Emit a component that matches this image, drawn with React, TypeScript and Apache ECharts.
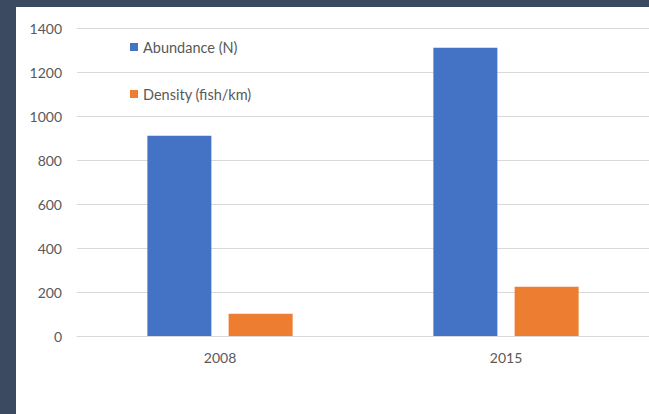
import React, { useEffect, useRef } from "react";
import * as echarts from "echarts";

const categories = ["2008", "2015"];
const abundance = [910, 1310];
const density = [101, 224];
const seriesNames = ["Abundance (N)", "Density (fish/km)"];

export default function App() {
  const ref = useRef<HTMLDivElement>(null);
  useEffect(() => {
    if (!ref.current) return;
    const chart = echarts.init(ref.current, null, { renderer: "svg" });
    const font = "Lato, 'Noto Sans', sans-serif";
    chart.setOption({
      animation: false,
      backgroundColor: "#3b4961",
      graphic: [
        {
          type: "rect",
          shape: { x: 16, y: 7, width: 640, height: 420 },
          style: { fill: "#ffffff" },
          z: -10,
          silent: true,
        },
      ],
      legend: {
        orient: "vertical",
        left: 125,
        top: 34,
        itemWidth: 8,
        itemHeight: 8,
        itemGap: 31,
        icon: "rect",
        textStyle: { color: "#595959", fontSize: 14.5, fontFamily: font, lineHeight: 16 },
        data: seriesNames,
      },
      grid: { left: 77, top: 28, width: 574, height: 308, containLabel: false },
      xAxis: {
        type: "category",
        data: categories,
        axisLine: { lineStyle: { color: "#d9d9d9", width: 1 } },
        axisTick: { show: false },
        axisLabel: { color: "#595959", fontSize: 14, fontFamily: font, margin: 14 },
      },
      yAxis: {
        type: "value",
        min: 0,
        max: 1400,
        interval: 200,
        axisLine: { show: false },
        axisTick: { show: false },
        splitLine: { lineStyle: { color: "#d9d9d9", width: 1 } },
        axisLabel: {
          color: "#595959",
          fontSize: 14,
          fontFamily: font,
          margin: 15,
          formatter: (v: number) => String(v),
        },
      },
      series: [
        {
          name: seriesNames[0],
          type: "bar",
          data: abundance,
          barWidth: 64,
          barGap: "27%",
          itemStyle: { color: "#4472c4" },
        },
        {
          name: seriesNames[1],
          type: "bar",
          data: density,
          barWidth: 64,
          itemStyle: { color: "#ed7d31" },
        },
      ],
    });
    return () => chart.dispose();
  }, []);
  return (
    <div
      ref={ref}
      style={{ position: "fixed", left: 0, top: 0, width: 649, height: 414 }}
    />
  );
}
